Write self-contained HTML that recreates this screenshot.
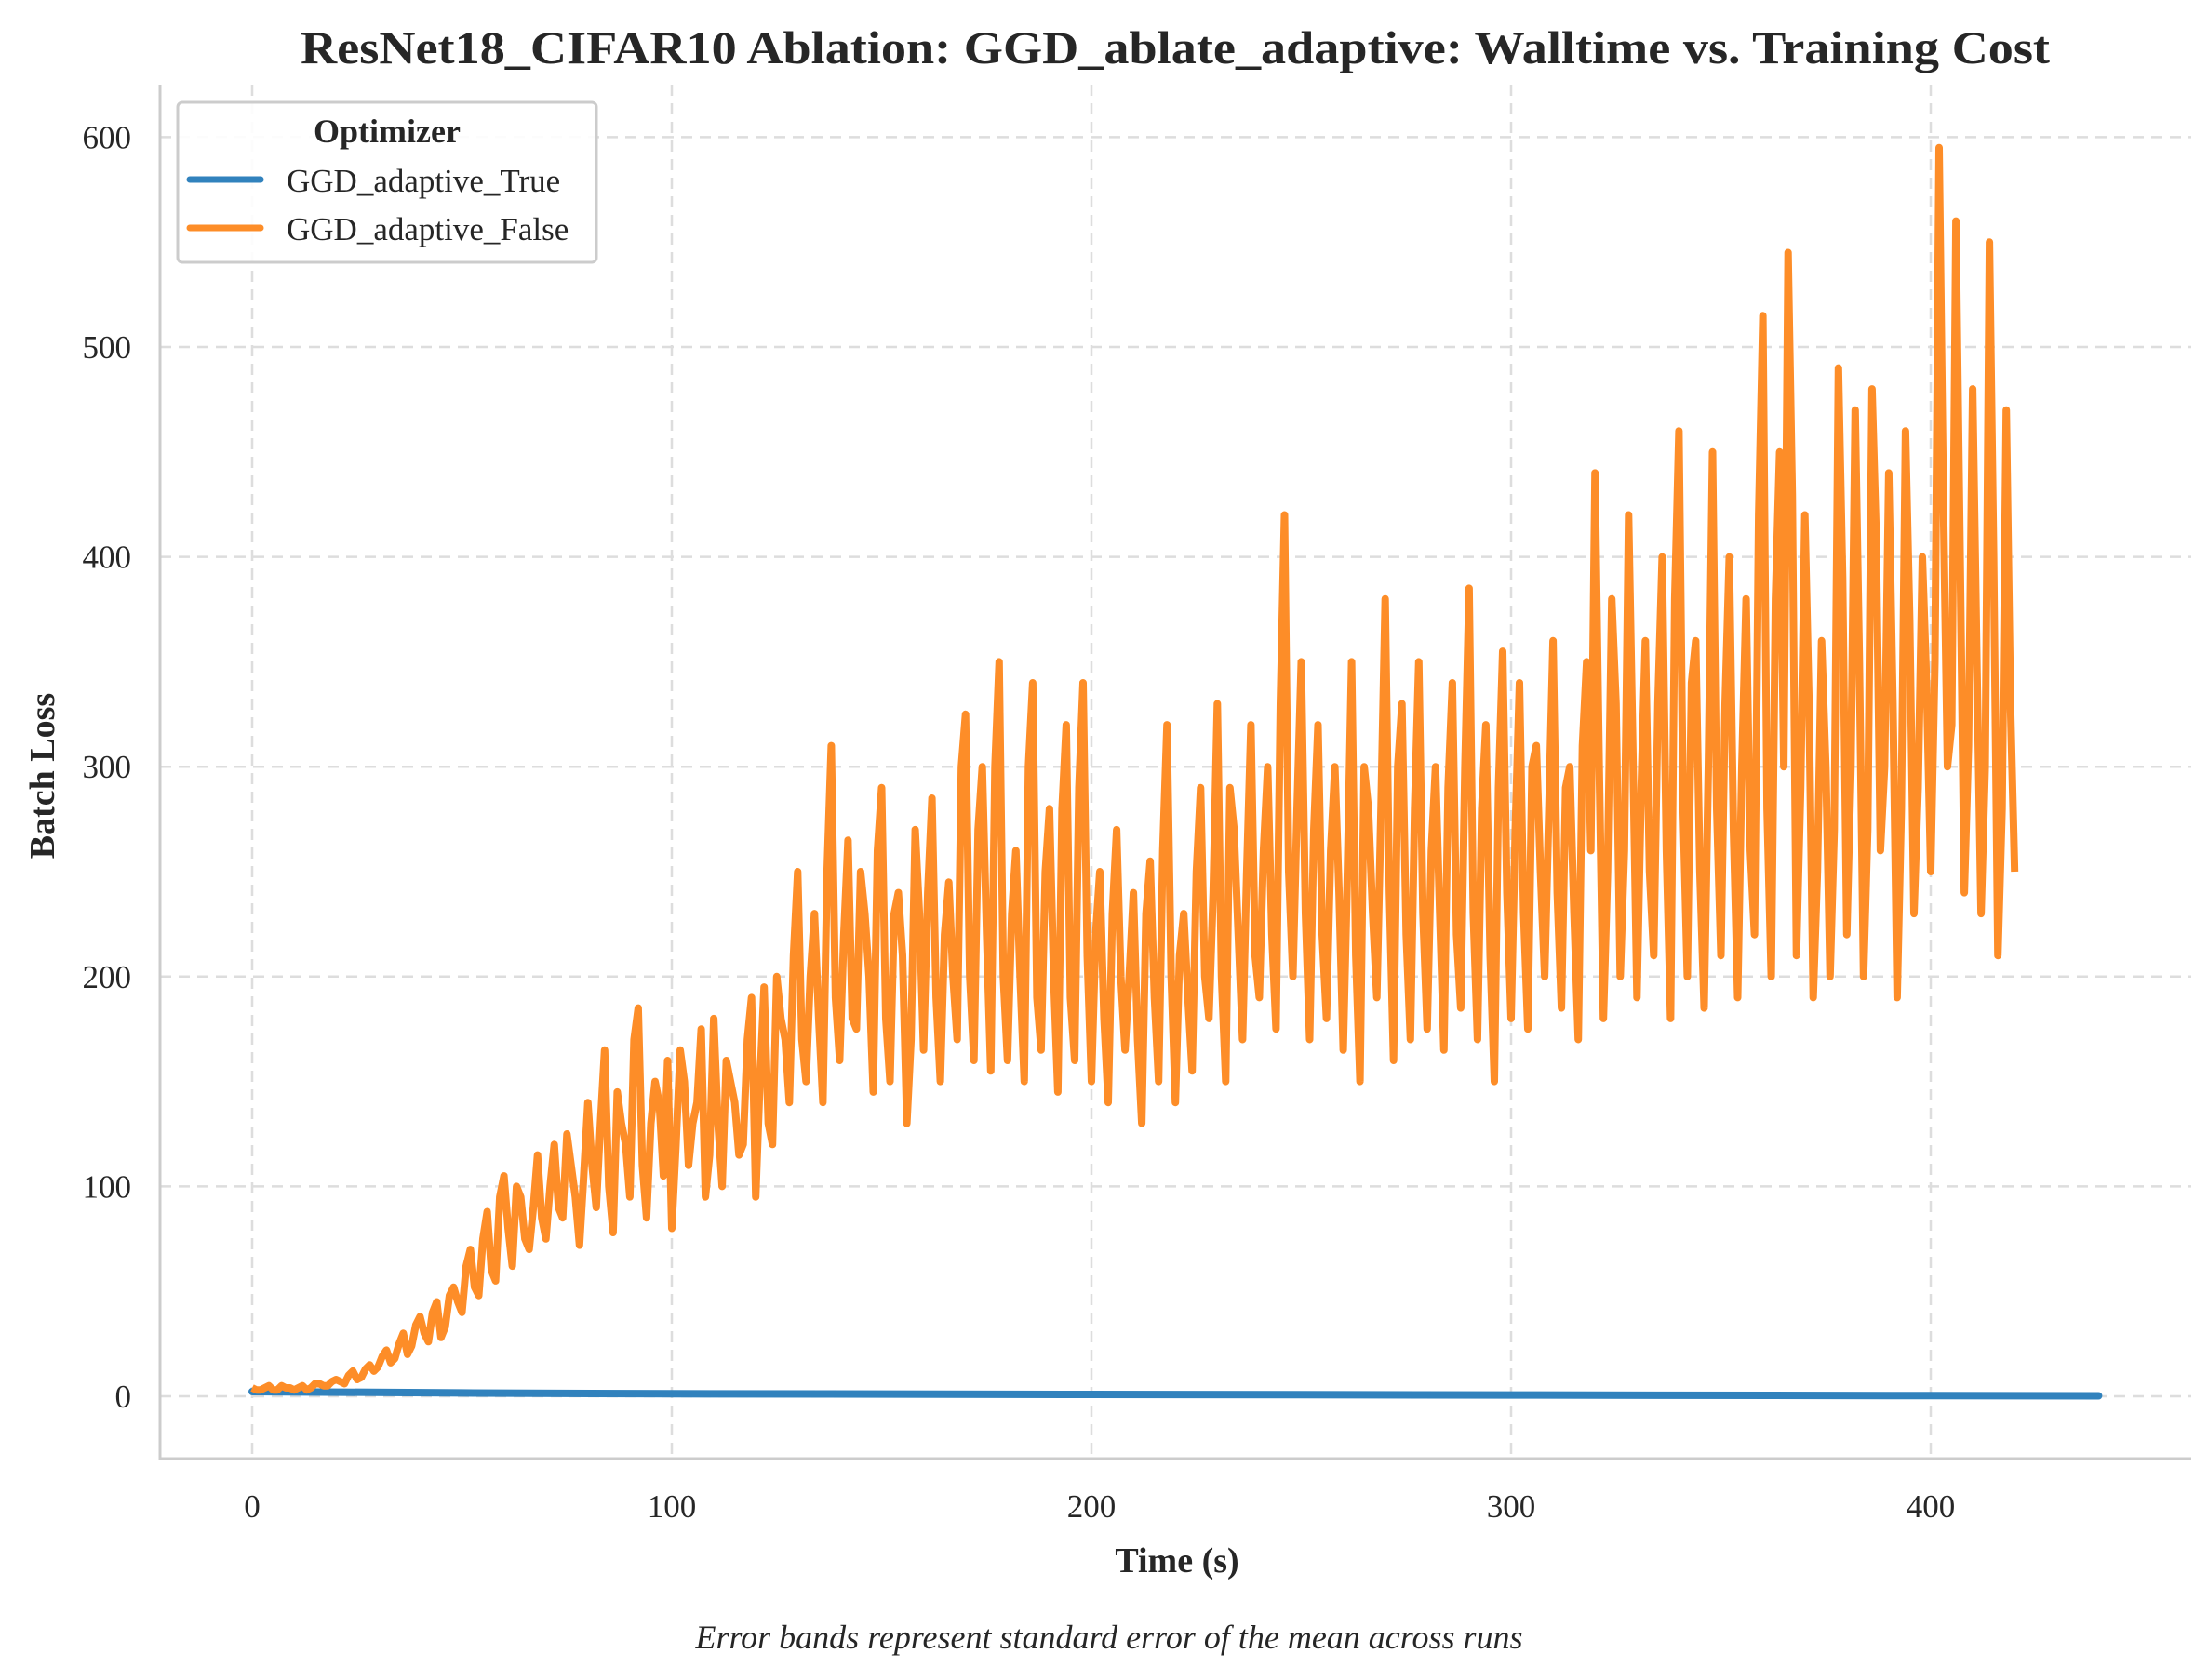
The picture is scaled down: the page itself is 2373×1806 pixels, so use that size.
<!DOCTYPE html>
<html><head><meta charset="utf-8">
<style>
html,body{margin:0;padding:0;background:#fff;}
svg{display:block;font-family:"Liberation Serif",serif;}
</style></head>
<body>
<svg id="chart" width="2373" height="1806" viewBox="0 0 2373 1806">
  <text x="1263" y="68" text-anchor="middle" font-size="50" font-weight="bold" fill="#262626" textLength="1880" lengthAdjust="spacingAndGlyphs">ResNet18_CIFAR10 Ablation: GGD_ablate_adaptive: Walltime vs. Training Cost</text>
  <g id="grid"></g>
  <g id="series"></g>
  <g id="axes">
    <line x1="172" y1="91" x2="172" y2="1569" stroke="#cccccc" stroke-width="3"/>
    <line x1="171" y1="1568" x2="2355" y2="1568" stroke="#cccccc" stroke-width="3"/>
  </g>
  <g id="ticks"></g>
  <text x="1265" y="1690" text-anchor="middle" font-size="38" font-weight="bold" fill="#262626">Time (s)</text>
  <text transform="translate(58,834) rotate(-90)" text-anchor="middle" font-size="38" font-weight="bold" fill="#262626">Batch Loss</text>
  <text x="1192" y="1772" text-anchor="middle" font-size="36" font-style="italic" fill="#262626">Error bands represent standard error of the mean across runs</text>
  <g>
    <rect x="191" y="110" width="450" height="172" rx="5" fill="#fff" fill-opacity="0.9" stroke="#cccccc" stroke-width="3"/>
    <text x="416" y="153" text-anchor="middle" font-size="36" font-weight="bold" fill="#262626">Optimizer</text>
    <line x1="204" y1="193" x2="280" y2="193" stroke="#3182bd" stroke-width="7" stroke-linecap="round"/>
    <text x="308" y="206" font-size="35" fill="#262626">GGD_adaptive_True</text>
    <line x1="204" y1="245" x2="280" y2="245" stroke="#fd8d28" stroke-width="7" stroke-linecap="round"/>
    <text x="308" y="258" font-size="35" fill="#262626">GGD_adaptive_False</text>
  </g>
</svg>
<script>
const xTicks = [0, 100, 200, 300, 400];
const yTicks = [0, 100, 200, 300, 400, 500, 600];
const falseStep = 2;
const falseValues = [
4,3,5,3,4, 3,5,4,6,5, 8,6,12,9,15, 14,22,18,30,24, 38,26,45,33,52,
40,70,48,88,55, 105,62,95,70,115, 75,120,85,110,72, 140,90,165,78,130, 95,185,85,150,105,
80,165,110,140,95, 180,100,150,115,170, 95,195,120,180,140, 250,150,230,140,310, 160,265,175,230,145,
290,150,240,130,270, 165,285,150,245,170, 325,160,300,155,350, 160,260,150,340,165, 280,145,320,160,340,
150,250,140,270,165, 240,130,255,150,320, 140,230,155,290,180, 330,150,270,170,320, 190,300,175,420,200,
350,170,320,180,300, 165,350,150,280,190, 380,160,330,170,350, 175,300,165,340,185, 385,170,320,150,355,
180,340,175,310,200, 360,185,300,170,350, 440,180,380,200,420, 190,360,210,400,180, 460,200,360,185,450,
210,400,190,380,220, 515,200,450,545,210, 420,190,360,200,490, 220,470,200,480,260, 440,190,460,230,400,
250,595,300,560,240, 480,230,550,210,470, 250
];
const falseValuesOdd = [
3,4,3,5,4, 4,3,6,5,7, 7,10,8,13,12, 19,16,25,20,34, 30,40,28,48,45,
62,52,75,60,95, 80,100,75,90,85, 100,90,125,95,105, 110,130,100,145,120, 170,110,130,140,160,
120,150,130,175,115, 130,160,140,120,190, 150,130,200,170,210, 170,200,180,250,190, 220,180,250,200,260,
180,230,210,170,230, 240,190,220,200,300, 200,270,220,300,200, 230,200,300,190,250, 200,280,190,290,210,
220,180,230,200,200, 170,230,190,260,200, 210,190,250,200,240, 200,290,220,250,210, 260,220,330,250,280,
230,270,220,260,240, 250,210,300,230,280, 240,300,220,280,230, 260,230,290,220,300, 230,280,210,290,240,
270,230,300,250,280, 240,290,230,310,260, 300,250,330,260,310, 290,250,330,260,380, 280,340,250,300,280,
330,270,300,260,420, 280,380,300,430,290, 330,250,300,270,390, 300,350,270,410,300, 330,280,370,290,340,
350,430,320,400,310, 350,300,400,280,330
];
const trueTimes = [0, 50, 100, 200, 300, 400, 440];
const trueValues = [2.2, 1.6, 1.2, 0.9, 0.6, 0.3, 0.2];

const NS = "http://www.w3.org/2000/svg";
const X0 = 271, XS = 4.51;
const Y0 = 1501, YS = 2.256;
const xs = v => X0 + v * XS;
const ys = v => Y0 - v * YS;

const grid = document.getElementById('grid');
const ticks = document.getElementById('ticks');
xTicks.forEach(t => {
  const l = document.createElementNS(NS, 'line');
  
  
  l.setAttribute('x1', xs(t)); l.setAttribute('x2', xs(t));
  l.setAttribute('y1', 91); l.setAttribute('y2', 1568);
  l.setAttribute('stroke', '#dddddd'); l.setAttribute('stroke-width', 2.5);
  l.setAttribute('stroke-dasharray', '12,8');
  grid.appendChild(l);
  const tx = document.createElementNS(NS, 'text');
  
  
  tx.setAttribute('x', xs(t)); tx.setAttribute('y', 1631);
  tx.setAttribute('text-anchor', 'middle'); tx.setAttribute('font-size', 35);
  tx.setAttribute('fill', '#262626');
  tx.textContent = t;
  ticks.appendChild(tx);
});
yTicks.forEach(t => {
  const l = document.createElementNS(NS, 'line');
  
  
  l.setAttribute('x1', 172); l.setAttribute('x2', 2355);
  l.setAttribute('y1', ys(t)); l.setAttribute('y2', ys(t));
  l.setAttribute('stroke', '#dddddd'); l.setAttribute('stroke-width', 2.5);
  l.setAttribute('stroke-dasharray', '12,8');
  grid.appendChild(l);
  const tx = document.createElementNS(NS, 'text');
  
  
  tx.setAttribute('x', 141); tx.setAttribute('y', ys(t) + 12);
  tx.setAttribute('text-anchor', 'end'); tx.setAttribute('font-size', 35);
  tx.setAttribute('fill', '#262626');
  tx.textContent = t;
  ticks.appendChild(tx);
});

const series = document.getElementById('series');
const pTrue = document.createElementNS(NS, 'path');


pTrue.setAttribute('d', trueTimes.map((t, i) => (i ? 'L' : 'M') + xs(t).toFixed(1) + ',' + ys(trueValues[i]).toFixed(1)).join(''));
pTrue.setAttribute('fill', 'none'); pTrue.setAttribute('stroke', '#3182bd');
pTrue.setAttribute('stroke-width', 8); pTrue.setAttribute('stroke-linecap', 'round');
series.appendChild(pTrue);

const pts = [];
falseValues.forEach((v, i) => pts.push([i * falseStep, v]));
falseValuesOdd.forEach((v, i) => pts.push([i * falseStep + 1, v]));
pts.sort((a, b) => a[0] - b[0]);
const pFalse = document.createElementNS(NS, 'path');


pFalse.setAttribute('d', pts.map((p, i) => (i ? 'L' : 'M') + xs(p[0]).toFixed(1) + ',' + ys(p[1]).toFixed(1)).join(''));
pFalse.setAttribute('fill', 'none'); pFalse.setAttribute('stroke', '#fd8d28');
pFalse.setAttribute('stroke-width', 8); pFalse.setAttribute('stroke-linejoin', 'round');
series.appendChild(pFalse);
</script>
</body></html>
